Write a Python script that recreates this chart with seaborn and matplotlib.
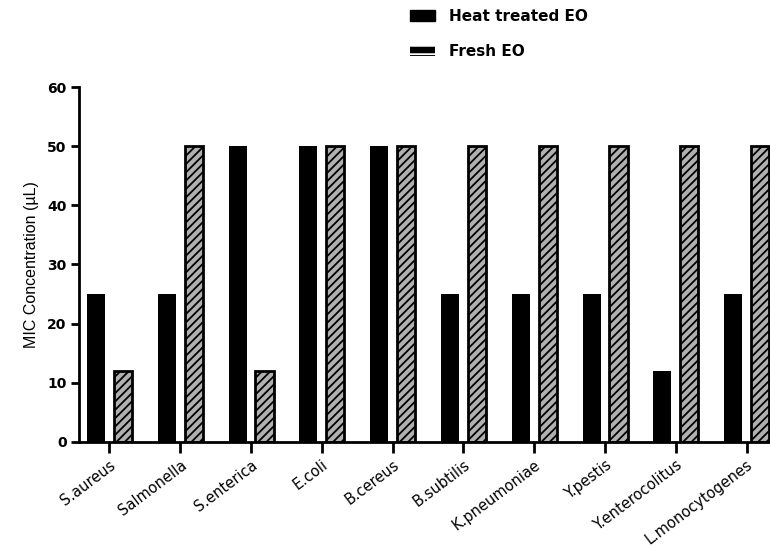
import pandas as pd
import matplotlib
matplotlib.use("Agg")
import matplotlib.pyplot as plt
import seaborn as sns
from matplotlib.patches import Patch

# values
organisms = ["S.aureus", "Salmonella", "S.enterica", "E.coli", "B.cereus",
             "B.subtilis", "K.pneumoniae", "Y.pestis", "Y.enterocolitus",
             "L.monocytogenes"]
heat_treated = [25, 25, 50, 50, 50, 25, 25, 25, 12, 25]
fresh = [12, 50, 12, 50, 50, 50, 50, 50, 50, 50]
groups = ["Heat treated EO", "Fresh EO"]
y_ticks = [0, 10, 20, 30, 40, 50, 60]

df = pd.DataFrame({
    "organism": organisms * 2,
    "mic": heat_treated + fresh,
    "group": [groups[0]] * len(organisms) + [groups[1]] * len(organisms),
})

sns.set_theme(style="ticks")
plt.rcParams["font.family"] = ["DejaVu Sans"]
plt.rcParams["text.color"] = "black"
plt.rcParams["axes.labelcolor"] = "black"
plt.rcParams["hatch.linewidth"] = 1.3

fig = plt.figure(figsize=(7.7, 5.49), dpi=100)
ax = fig.add_axes([0.1026, 0.195, 0.8974, 0.6465])

sns.barplot(data=df, x="organism", y="mic", hue="group", hue_order=groups,
            palette=["black", "#b0b0b0"], width=0.76, gap=0.33,
            legend=False, ax=ax)

# second series: grey with black diagonal hatch and thick border
for bar in ax.containers[1]:
    bar.set_edgecolor("black")
    bar.set_hatch("////")
    bar.set_linewidth(2)
for bar in ax.containers[0]:
    bar.set_linewidth(0)

ax.set_xlim(-0.43, 9.33)
ax.set_ylim(0, 60)
ax.set_yticks(y_ticks)
ax.set_yticklabels([str(t) for t in y_ticks], fontweight="bold", fontsize=10)
ax.set_xticks(range(len(organisms)))
ax.set_xticklabels(organisms, rotation=37, ha="right", rotation_mode="anchor",
                   fontsize=10.5)
ax.set_xlabel("")
ax.set_ylabel("MIC Concentration (µL)", fontsize=11.5, labelpad=6,
              family="Liberation Sans")

sns.despine(ax=ax)
for side in ["left", "bottom"]:
    ax.spines[side].set_linewidth(2)
    ax.spines[side].set_color("black")
ax.tick_params(axis="y", length=6, width=2, pad=3, colors="black")
ax.tick_params(axis="x", length=8, width=2, pad=3, colors="black")

handles = [
    Patch(facecolor="black", edgecolor="black", label=groups[0]),
    Patch(facecolor="black", edgecolor="white", linewidth=0, hatch="--",
          label=groups[1]),
]
fig.legend(handles=handles, loc="upper left", bbox_to_anchor=(0.515, 1.009),
           frameon=False, handlelength=1.6, handleheight=0.65,
           labelspacing=1.35, handletextpad=0.95,
           prop={"weight": "bold", "size": 11})

fig.savefig("out.png", dpi=100)
